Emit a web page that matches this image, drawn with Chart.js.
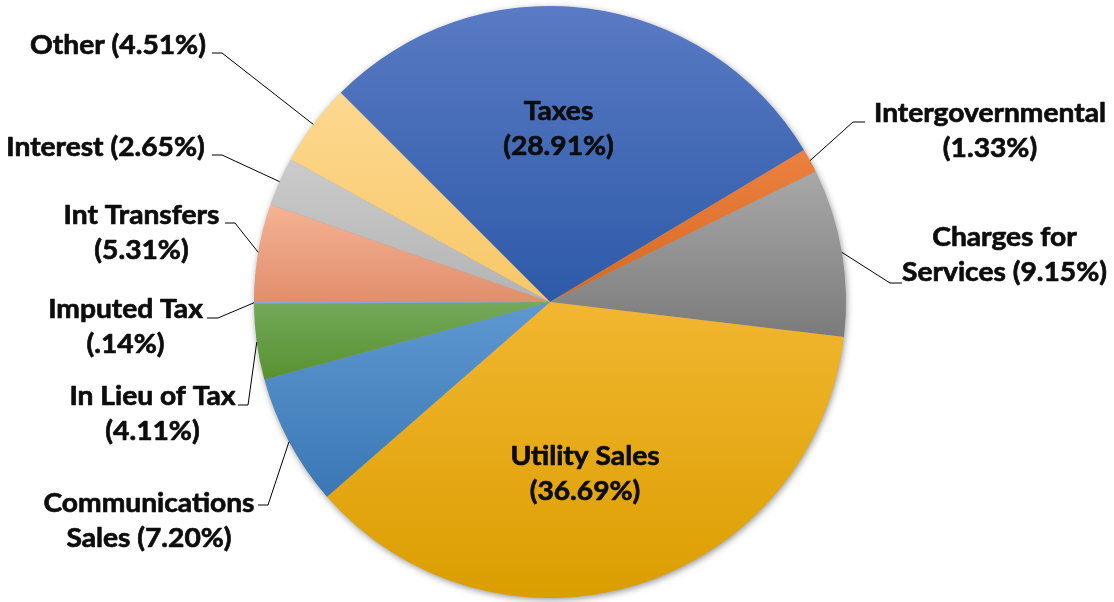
<!DOCTYPE html>
<html>
<head>
<meta charset="utf-8">
<script src="https://cdn.jsdelivr.net/npm/chart.js@4/dist/chart.umd.min.js"></script>
<style>
  html, body { margin: 0; padding: 0; background: #ffffff; }
  #wrap { width: 1114px; height: 602px; position: relative; }
</style>
</head>
<body>
<div id="wrap"><canvas id="c"></canvas></div>
<script>
// ---- data ----
const categories = ['Taxes', 'Intergovernmental', 'Charges for Services', 'Utility Sales',
  'Communications Sales', 'In Lieu of Tax', 'Imputed Tax', 'Int Transfers', 'Interest', 'Other'];
const shares = [28.91, 1.33, 9.15, 36.69, 7.20, 4.11, 0.14, 5.31, 2.65, 4.51];
const labelLines = [
  ['Taxes', '(28.91%)'],
  ['Intergovernmental', '(1.33%)'],
  ['Charges for', 'Services (9.15%)'],
  ['Utility Sales', '(36.69%)'],
  ['Communications', 'Sales (7.20%)'],
  ['In Lieu of Tax', '(4.11%)'],
  ['Imputed Tax', '(.14%)'],
  ['Int Transfers', '(5.31%)'],
  ['Interest (2.65%)'],
  ['Other (4.51%)']
];

// ---- styles (gradient top / bottom per slice) ----
const colorTop = ['#5A7AC4', '#EC8040', '#A8A8A8', '#F2B631', '#5F98D1', '#73A95A', '#8FAADC', '#F5B394', '#CBCBCB', '#FDD890'];
const colorBottom = ['#2D5AA8', '#D66A22', '#7B7B7B', '#DB9E00', '#3A77B4', '#589130', '#7E9AD2', '#E18E6C', '#B3B3B3', '#F8C868'];

// ---- label layout: offsets (px) from the pie centre ----
// text: [centre x of block, baseline of first line]; end: leader end point; elbowDx: horizontal leader length (toward the pie)
const labelText = [[8.5, -182.5], [440, -180], [454.5, -56], [35, 163], [-401, 209.5],
  [-397.5, 103], [-424.5, 16], [-408.5, -78], [-444.5, -146], [-432, -248]];
const leaderEnd = [null, [315, -180], [352, -19], null, [-292, 203],
  [-312, 103], [-343, 16], [-325, -79], [-338, -147], [-338, -249]];
const elbowDx = [0, 12, 12, 0, -10, -10, -11, -10, -10, -10];

const FONT_SIZE = 27;
const FONT = 'bold ' + FONT_SIZE + 'px Lato, "Open Sans", sans-serif';
const LINE_H = 35;
const ROTATION = -45;

function sliceGradient(ctx) {
  const chart = ctx.chart;
  const ca = chart.chartArea;
  const i = ctx.dataIndex;
  if (!ca || i === undefined) return colorTop[i] || '#888';
  const cx = (ca.left + ca.right) / 2, cy = (ca.top + ca.bottom) / 2;
  const r = Math.min(ca.width, ca.height) / 2;
  const total = shares.reduce((a, b) => a + b, 0);
  let start = (ROTATION - 90) * Math.PI / 180;
  for (let j = 0; j < i; j++) start += 2 * Math.PI * shares[j] / total;
  const end = start + 2 * Math.PI * shares[i] / total;
  const ys = [cy, cy + r * Math.sin(start), cy + r * Math.sin(end)];
  for (let k = -2; k <= 2; k++) {
    const top = -Math.PI / 2 + k * 2 * Math.PI, bot = Math.PI / 2 + k * 2 * Math.PI;
    if (top >= start && top <= end) ys.push(cy - r);
    if (bot >= start && bot <= end) ys.push(cy + r);
  }
  const y0 = Math.min(...ys), y1 = Math.max(...ys);
  const g = chart.ctx.createLinearGradient(0, y0, 0, Math.max(y1, y0 + 1));
  g.addColorStop(0, colorTop[i]);
  g.addColorStop(1, colorBottom[i]);
  return g;
}

const shadowPlugin = {
  id: 'pieShadow',
  beforeDatasetsDraw(chart) {
    const el = chart.getDatasetMeta(0).data[0];
    if (!el) return;
    const ctx = chart.ctx;
    ctx.save();
    ctx.shadowColor = 'rgba(0,0,0,0.45)';
    ctx.shadowBlur = 7;
    ctx.shadowOffsetX = 1;
    ctx.shadowOffsetY = 2;
    ctx.fillStyle = '#999';
    ctx.beginPath();
    ctx.arc(el.x, el.y, el.outerRadius - 0.5, 0, Math.PI * 2);
    ctx.fill();
    ctx.restore();
  }
};

const labelPlugin = {
  id: 'pieLabels',
  afterDatasetsDraw(chart) {
    const meta = chart.getDatasetMeta(0);
    const ctx = chart.ctx;
    ctx.save();
    ctx.font = FONT;
    const measured = ctx.measureText('Intergovernmental').width;
    const sx = Math.max(0.8, Math.min(1.2, 232 / measured));
    meta.data.forEach((arc, i) => {
      const cx = arc.x, cy = arc.y;
      // leader line
      if (leaderEnd[i]) {
        const mid = (arc.startAngle + arc.endAngle) / 2;
        const sxp = cx + arc.outerRadius * Math.cos(mid);
        const syp = cy + arc.outerRadius * Math.sin(mid);
        const ex = cx + leaderEnd[i][0], ey = cy + leaderEnd[i][1];
        const bx = ex - elbowDx[i];
        ctx.strokeStyle = '#000';
        ctx.lineWidth = 1;
        ctx.beginPath();
        ctx.moveTo(sxp, syp);
        ctx.lineTo(bx, ey);
        ctx.lineTo(ex, ey);
        ctx.stroke();
      }
      // text
      const tx = cx + labelText[i][0];
      const ty = cy + labelText[i][1];
      ctx.fillStyle = '#0d0d0d';
      ctx.strokeStyle = '#0d0d0d';
      ctx.lineWidth = 0.7;
      ctx.lineJoin = 'round';
      ctx.textAlign = 'center';
      ctx.textBaseline = 'alphabetic';
      labelLines[i].forEach((line, k) => {
        ctx.save();
        ctx.translate(tx, ty + k * LINE_H);
        ctx.scale(sx, 1);
        ctx.fillText(line, 0, 0);
        ctx.strokeText(line, 0, 0);
        ctx.restore();
      });
    });
    ctx.restore();
  }
};

new Chart(document.getElementById('c'), {
  type: 'pie',
  data: {
    labels: categories,
    datasets: [{
      data: shares,
      backgroundColor: sliceGradient,
      borderWidth: 0,
      hoverOffset: 0,
      offset: 0
    }]
  },
  options: {
    responsive: true,
    maintainAspectRatio: false,
    animation: false,
    rotation: ROTATION,
    layout: { padding: { left: 254, right: 268, top: 6, bottom: 4 } },
    plugins: {
      legend: { display: false },
      tooltip: { enabled: false },
      title: { display: false }
    },
    events: []
  },
  plugins: [shadowPlugin, labelPlugin]
});
</script>
</body>
</html>
